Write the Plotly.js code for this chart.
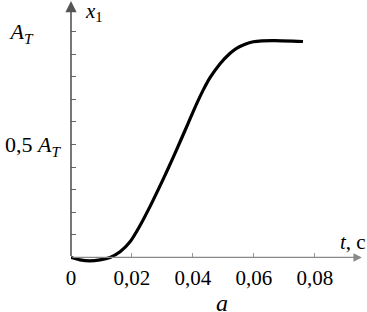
<!DOCTYPE html>
<html><head><meta charset="utf-8">
<script src="https://cdn.plot.ly/plotly-3.0.1.min.js"></script>
<style>body{margin:0;background:#fff}#c{width:367px;height:312px}</style>
</head><body><div id="c"></div>
<script>
// time, s
const t  = [0, 0.00295, 0.0062, 0.0095, 0.0128, 0.0161, 0.0193, 0.0226, 0.0259, 0.0292, 0.0319, 0.0344, 0.0374, 0.0390, 0.0412, 0.0434, 0.0456, 0.0489, 0.0521, 0.0543, 0.0571, 0.0598, 0.0626, 0.0669, 0.0761];
// x1 in units of A_T
const x1 = [0, -0.011, -0.0155, -0.011, 0, 0.025, 0.068, 0.140, 0.225, 0.317, 0.395, 0.470, 0.562, 0.612, 0.680, 0.742, 0.796, 0.858, 0.903, 0.926, 0.944, 0.955, 0.959, 0.960, 0.956];

const xTickVals = [0, 0.02, 0.04, 0.06, 0.08];
const xTickText = ['0', '0,02', '0,04', '0,06', '0,08'];
const yTickVals = [0.1, 0.2, 0.3, 0.4, 0.5, 0.6, 0.7, 0.8, 0.9, 1.0];
const yTickText = ['', '', '', '', '0,5 <i>A<sub>T</sub></i>', '', '', '', '', '<i>A<sub>T</sub></i>&nbsp;&nbsp;&nbsp;&nbsp;&nbsp;'];

const font = {family: 'Liberation Serif, Times New Roman, serif', size: 21, color: '#000'};
const yMin = -0.06, yMax = 1.10;

const trace = {
  x: t, y: x1, type: 'scatter', mode: 'lines',
  line: {color: '#000', width: 3.2, shape: 'spline', smoothing: 0.8},
  hoverinfo: 'none'
};

const layout = {
  width: 367, height: 312,
  margin: {l: 71, r: 14, t: 9, b: 41, pad: 0},
  paper_bgcolor: '#fff', plot_bgcolor: '#fff',
  showlegend: false,
  font: font,
  xaxis: {
    range: [0, 0.0925], anchor: 'free', position: (-yMin) / (yMax - yMin),
    showgrid: false, zeroline: false, showline: false,
    ticks: 'inside', ticklen: 4, tickwidth: 1, tickcolor: '#999',
    tickvals: xTickVals, ticktext: xTickText,
    ticklabelstandoff: 6,
    tickfont: font
  },
  yaxis: {
    range: [yMin, yMax],
    showgrid: false, zeroline: false, showline: false,
    ticks: 'inside', ticklen: 5, tickwidth: 1, tickcolor: '#666',
    tickvals: yTickVals, ticktext: yTickText,
    ticklabelstandoff: 10,
    tickfont: {family: font.family, size: 22, color: '#000'}
  },
  annotations: [
    // y axis with arrow
    {x: 0, y: 1.135, ax: 0, ay: 0, axref: 'x', ayref: 'y', xref: 'x', yref: 'y',
     text: '', showarrow: true, arrowhead: 2, arrowsize: 1.4, arrowwidth: 1.6, arrowcolor: '#555'},
    // x axis with arrow
    {x: 0.0954, y: 0, ax: 0, ay: 0, axref: 'x', ayref: 'y', xref: 'x', yref: 'y',
     text: '', showarrow: true, arrowhead: 2, arrowsize: 1.4, arrowwidth: 1.2, arrowcolor: '#888'},
    {x: 0.0039, y: 1.085, xref: 'x', yref: 'y', xanchor: 'left', yanchor: 'middle',
     text: '<i>x</i><sub>1</sub>', showarrow: false, font: font},
    {x: 0.0875, y: 0.069, xref: 'x', yref: 'y', xanchor: 'left', yanchor: 'middle',
     text: '<i>t</i>, c', showarrow: false, font: font},
    {x: 0.0494, y: -0.065, xref: 'x', yref: 'paper', xanchor: 'center', yanchor: 'top',
     text: '<i>a</i>', showarrow: false, font: {family: font.family, size: 24, color: '#000'}}
  ]
};

Plotly.newPlot('c', [trace], layout, {staticPlot: true, displayModeBar: false});
</script>
</body></html>
